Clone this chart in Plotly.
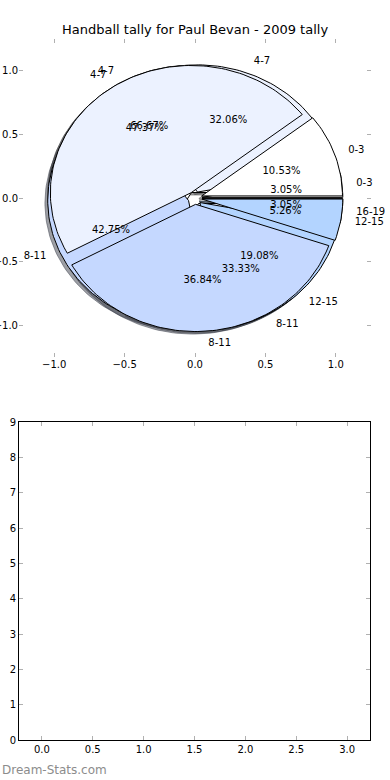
import numpy as np
import plotly.graph_objects as go

# ---------------- data ----------------
title_text = "Handball tally for Paul Bevan - 2009 tally"
watermark_text = "Dream-Stats.com"

pie_a_labels = ["4-7", "8-11"]
pie_a_counts = [2, 1]

pie_b_labels = ["0-3", "4-7", "8-11", "12-15", "16-19"]
pie_b_counts = [4, 42, 56, 25, 4]

pie_c_labels = ["0-3", "4-7", "8-11", "12-15"]
pie_c_counts = [2, 9, 7, 1]

wedge_colors = ["#FFFFFF", "#ECF2FF", "#C5D8FF", "#B3D4FF", "#A2C6FF"]

pie_ticks = [-1.0, -0.5, 0.0, 0.5, 1.0]
bar_x_ticks = [0.0, 0.5, 1.0, 1.5, 2.0, 2.5, 3.0]
bar_y_ticks = [0, 1, 2, 3, 4, 5, 6, 7, 8, 9]

# ---------------- style ----------------
EXPLODE = 0.05
RADIUS = 1.0
SHADOW_OFF = 0.02
FONT = "DejaVu Sans"
TICK_GREY = "#b0b0b0"


def hex_rgb(h):
    h = h.lstrip("#")
    return tuple(int(h[i:i + 2], 16) for i in (0, 2, 4))


def wedge_geometry(counts):
    total = float(sum(counts))
    out = []
    t1 = 0.0
    for c in counts:
        frac = c / total
        t2 = t1 + frac
        tm = np.pi * (t1 + t2)
        cx = EXPLODE * np.cos(tm)
        cy = EXPLODE * np.sin(tm)
        out.append((t1 * 360.0, t2 * 360.0, tm, cx, cy, frac))
        t1 = t2
    return out


def poly(cx, cy, a1, a2):
    n = max(8, int((a2 - a1) / 1.5))
    ang = np.radians(np.linspace(a1, a2, n))
    xs = np.concatenate([[cx], cx + RADIUS * np.cos(ang), [cx]])
    ys = np.concatenate([[cy], cy + RADIUS * np.sin(ang), [cy]])
    return xs, ys


pies = [
    (pie_a_labels, pie_a_counts),
    (pie_b_labels, pie_b_counts),
    (pie_c_labels, pie_c_counts),
]

fig = go.Figure()

# shadows (below all wedges)
for labels, counts in pies:
    for i, (a1, a2, tm, cx, cy, frac) in enumerate(wedge_geometry(counts)):
        r, g, b = hex_rgb(wedge_colors[i % len(wedge_colors)])
        sc = "rgba(%d,%d,%d,0.5)" % (int(0.3 * r), int(0.3 * g), int(0.3 * b))
        xs, ys = poly(cx - SHADOW_OFF, cy - SHADOW_OFF, a1, a2)
        fig.add_trace(go.Scatter(x=xs, y=ys, mode="lines", fill="toself",
                                 fillcolor=sc, line=dict(color=sc, width=1),
                                 hoverinfo="skip", showlegend=False,
                                 xaxis="x", yaxis="y"))

# wedges
for labels, counts in pies:
    for i, (a1, a2, tm, cx, cy, frac) in enumerate(wedge_geometry(counts)):
        xs, ys = poly(cx, cy, a1, a2)
        fig.add_trace(go.Scatter(x=xs, y=ys, mode="lines", fill="toself",
                                 fillcolor=wedge_colors[i % len(wedge_colors)],
                                 line=dict(color="black", width=1),
                                 hoverinfo="skip", showlegend=False,
                                 xaxis="x", yaxis="y"))

# texts
for labels, counts in pies:
    geo = wedge_geometry(counts)
    lx, ly, lpos, lt = [], [], [], []
    px, py, pt = [], [], []
    for (a1, a2, tm, cx, cy, frac), lab in zip(geo, labels):
        xt = cx + 1.1 * RADIUS * np.cos(tm)
        yt = cy + 1.1 * RADIUS * np.sin(tm)
        lx.append(xt)
        ly.append(yt)
        lt.append(lab)
        lpos.append("middle right" if xt > 0 else "middle left")
        px.append(cx + 0.6 * RADIUS * np.cos(tm))
        py.append(cy + 0.6 * RADIUS * np.sin(tm))
        pt.append("%.2f%%" % (100.0 * frac))
    fig.add_trace(go.Scatter(x=lx, y=ly, mode="text", text=lt, textposition=lpos,
                             textfont=dict(family=FONT, size=10, color="black"),
                             hoverinfo="skip", showlegend=False, cliponaxis=False,
                             xaxis="x", yaxis="y"))
    fig.add_trace(go.Scatter(x=px, y=py, mode="text", text=pt, textposition="middle center",
                             textfont=dict(family=FONT, size=10, color="black"),
                             hoverinfo="skip", showlegend=False, cliponaxis=False,
                             xaxis="x", yaxis="y"))

# empty lower axes
fig.add_trace(go.Bar(x=[], y=[], xaxis="x2", yaxis="y2", showlegend=False))

axis_common = dict(ticks="inside", ticklen=4, tickcolor=TICK_GREY, tickwidth=1,
                   showgrid=False, zeroline=False, automargin=False,
                   tickfont=dict(family=FONT, size=10, color="black"))

fig.update_layout(
    width=390, height=780,
    margin=dict(l=0, r=0, t=0, b=0, autoexpand=False),
    paper_bgcolor="white", plot_bgcolor="white",
    showlegend=False,
    xaxis=dict(domain=[19 / 390, 371 / 390], range=[-1.25, 1.25],
               tickvals=pie_ticks, tickformat=".1f", showline=False,
               mirror="ticks", anchor="y", **axis_common),
    yaxis=dict(domain=[(780 - 357) / 780, (780 - 39) / 780], range=[-1.25, 1.25],
               tickvals=pie_ticks, tickformat=".1f", showline=False,
               mirror="ticks", anchor="x", **axis_common),
    xaxis2=dict(domain=[19 / 390, 370 / 390], range=[-0.225, 3.225],
                tickvals=bar_x_ticks, tickformat=".1f", showline=True,
                linecolor="black", linewidth=1, mirror="ticks", anchor="y2",
                **axis_common),
    yaxis2=dict(domain=[(780 - 740) / 780, (780 - 422) / 780], range=[0, 9],
                tickvals=bar_y_ticks, tickformat="d", showline=True,
                linecolor="black", linewidth=1, mirror="ticks", anchor="x2",
                **axis_common),
    annotations=[
        dict(text=title_text, x=0.5, y=1 - 30 / 780, xref="paper", yref="paper",
             xanchor="center", yanchor="middle", showarrow=False,
             font=dict(family=FONT, size=13, color="black")),
        dict(text=watermark_text, x=0, y=1 - 770 / 780, xref="paper", yref="paper",
             xanchor="left", yanchor="middle", showarrow=False,
             font=dict(family=FONT, size=12, color="#8c8c8c")),
    ],
)

fig.write_html(
    "out.html",
    config={"displayModeBar": False, "staticPlot": True},
    post_script="document.body.style.margin='0';document.body.style.overflow='hidden';",
)
